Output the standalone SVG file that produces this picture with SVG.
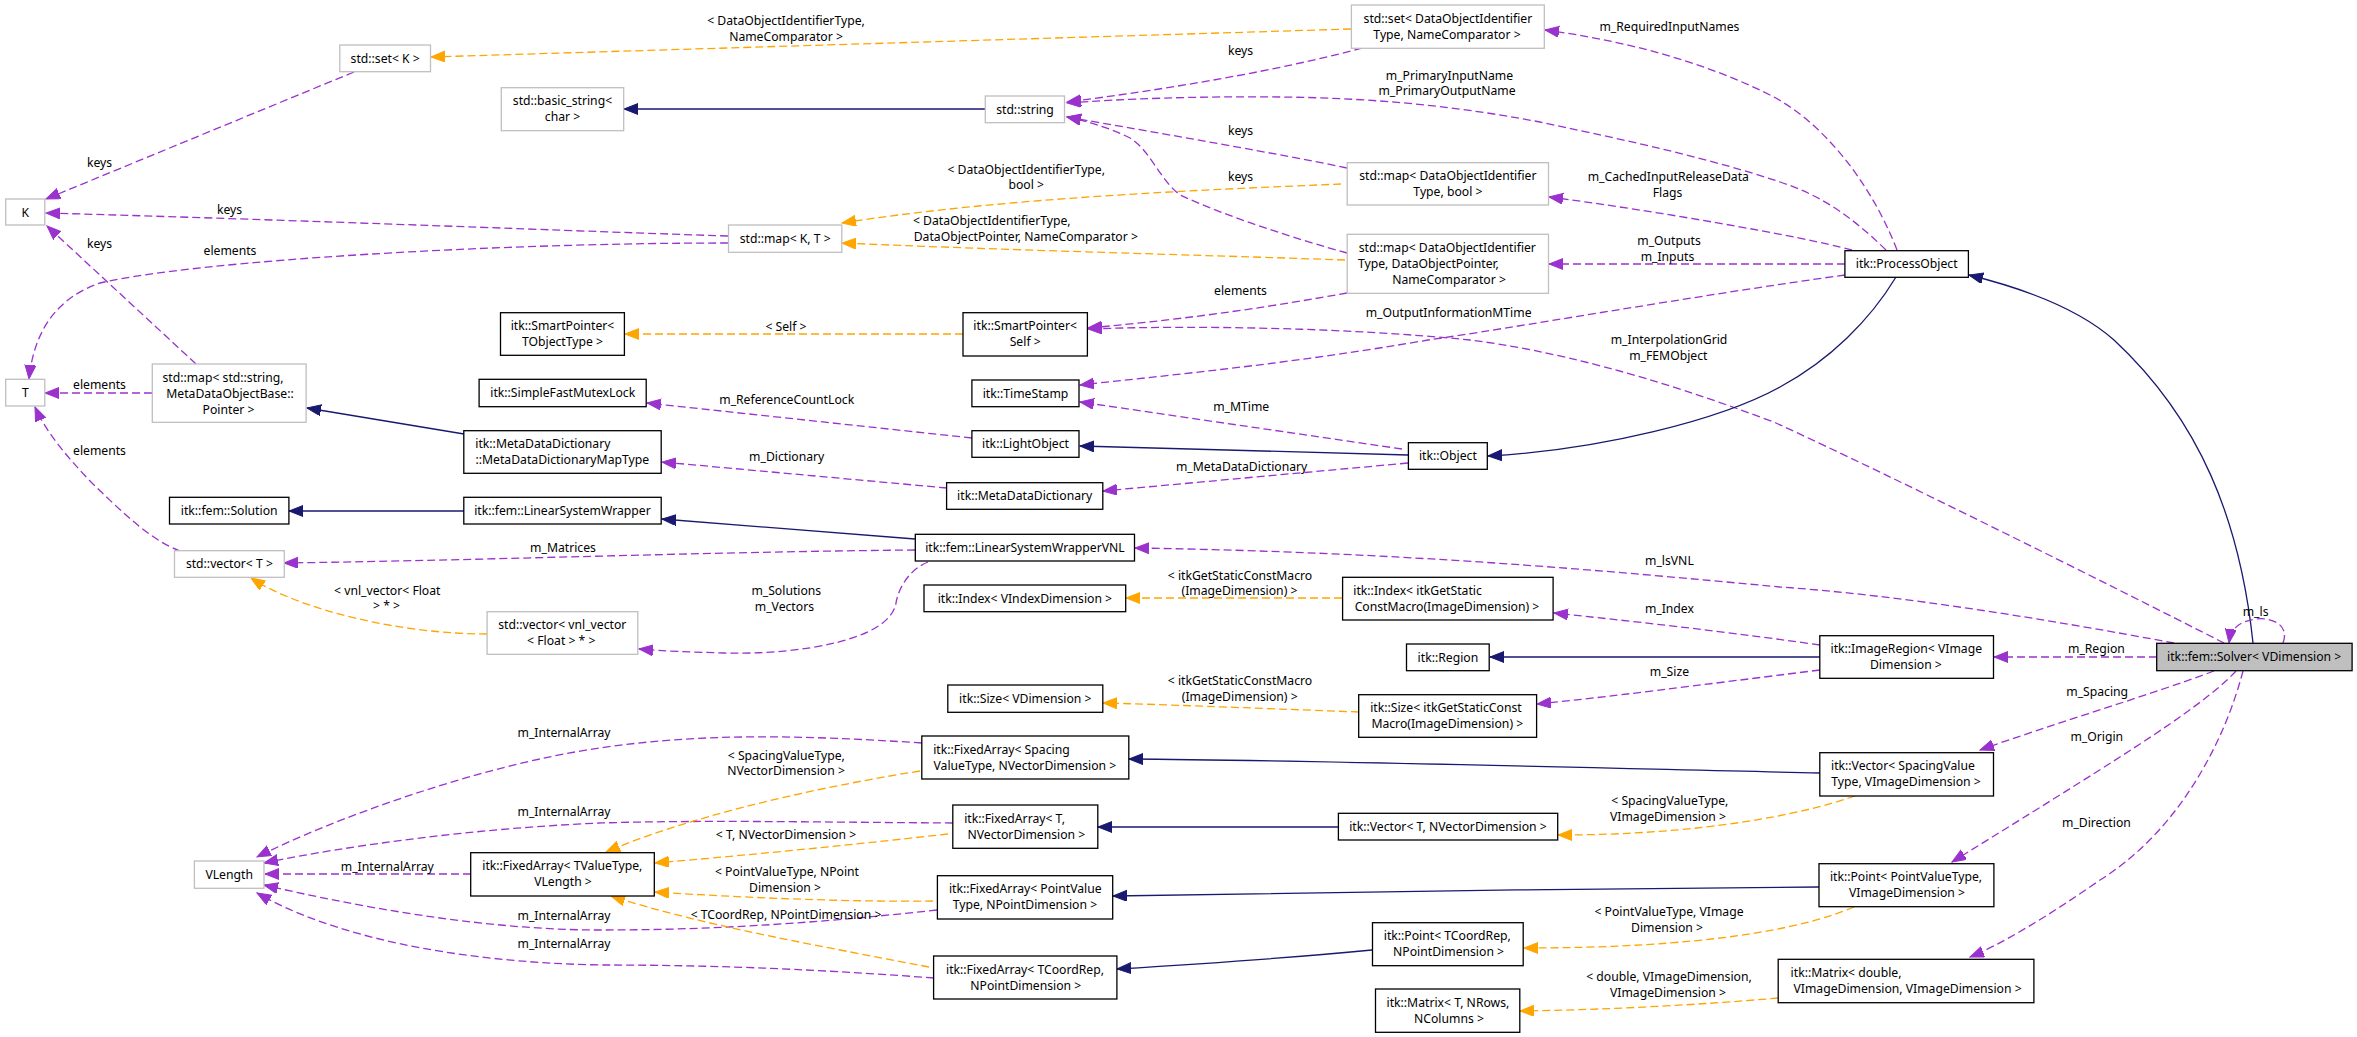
<svg xmlns="http://www.w3.org/2000/svg" width="2357" height="1037" viewBox="0 0 2357 1037">
<style>
.nd rect{fill:#fff;stroke:#000;stroke-width:1.3}
.ud rect{fill:#fff;stroke:#bfbfbf;stroke-width:1.3}
.sv rect{fill:#bfbfbf;stroke:#000;stroke-width:1.3}
text{font-family:"Noto Sans","Liberation Sans",sans-serif;font-size:12.2px;fill:#000}
.m{text-anchor:middle}
.s{text-anchor:start}
#connectors path{fill:none;stroke-width:1.3}
.p{stroke:#9a32cd;stroke-dasharray:8,4;marker-end:url(#ap)}
.o{stroke:#ffa500;stroke-dasharray:8,4;marker-end:url(#ao)}
.b{stroke:#191970;marker-end:url(#ab)}
</style>
<defs>
<marker id="ap" markerUnits="userSpaceOnUse" markerWidth="16" markerHeight="12" refX="14" refY="5.5" orient="auto" viewBox="0 0 16 12"><path d="M0,0 L14,5.5 L0,11 z" fill="#9a32cd" stroke="#9a32cd"/></marker>
<marker id="ao" markerUnits="userSpaceOnUse" markerWidth="16" markerHeight="12" refX="14" refY="5.5" orient="auto" viewBox="0 0 16 12"><path d="M0,0 L14,5.5 L0,11 z" fill="#ffa500" stroke="#ffa500"/></marker>
<marker id="ab" markerUnits="userSpaceOnUse" markerWidth="16" markerHeight="12" refX="14" refY="5.5" orient="auto" viewBox="0 0 16 12"><path d="M0,0 L14,5.5 L0,11 z" fill="#191970" stroke="#191970"/></marker>
</defs>
<rect x="0" y="0" width="2357" height="1037" fill="#fff"/>

<g id="connectors">
<path class="o" d="M1351,29 L431,57"/>
<path class="p" d="M354,72 L46,199"/>
<path class="p" d="M728,236 C600,232 300,220 46,213"/>
<path class="p" d="M728,243 C500,243 200,260 100,283 C50,300 33,340 29,379"/>
<path class="p" d="M196,364 L47,226"/>
<path class="p" d="M152,393 L45,393"/>
<path class="p" d="M180,551 C150,540 120,510 92,483 C65,455 45,430 35,407"/>
<path class="p" d="M915,550 C700,552 500,560 284,563"/>
<path class="o" d="M487,634 C400,634 300,610 251,578"/>
<path class="p" d="M928,562 C908,570 898,590 896,603 C890,640 800,655 724,653 C690,652 660,651 639,649"/>
<path class="o" d="M963,334 L625,334"/>
<path class="b" d="M985,109 L624,109"/>
<path class="p" d="M1362,48 C1300,65 1200,85 1067,102"/>
<path class="p" d="M1347,168 C1300,158 1200,140 1067,117"/>
<path class="p" d="M1347,253 C1300,240 1230,218 1180,195 C1160,180 1150,150 1130,138 C1110,128 1090,122 1067,117"/>
<path class="o" d="M1341,184 C1200,190 1000,198 842,223"/>
<path class="o" d="M1345,260 C1200,255 1000,250 842,243"/>
<path class="p" d="M1886,250 C1850,215 1820,195 1780,182 C1700,155 1600,135 1540,122 C1450,105 1370,98 1280,97 C1200,96 1120,99 1067,103"/>
<path class="p" d="M1897,250 C1870,180 1820,120 1770,95 C1700,60 1620,40 1545,30"/>
<path class="p" d="M1852,250 C1800,236 1650,210 1549,197"/>
<path class="p" d="M1845,264 L1549,264"/>
<path class="p" d="M1845,275 C1700,295 1500,330 1428,340 C1300,362 1200,372 1080,385"/>
<path class="p" d="M1347,293 C1280,305 1200,318 1088,328"/>
<path class="p" d="M2224,643 C2100,580 1900,480 1776,423 C1650,375 1550,350 1470,340 C1350,328 1200,325 1088,329"/>
<path class="b" d="M2253,643 C2240,520 2200,420 2114,340 C2080,310 2030,290 1969,275"/>
<path class="b" d="M1896,277 C1870,320 1830,360 1780,387 C1720,420 1600,450 1488,456"/>
<path class="b" d="M1408,455 L1080,446"/>
<path class="p" d="M1402,449 L1080,402"/>
<path class="p" d="M1408,463 L1103,491"/>
<path class="p" d="M972,438 L647,403"/>
<path class="p" d="M947,488 L662,462"/>
<path class="b" d="M464,434 L307,408"/>
<path class="b" d="M464,511 L289,511"/>
<path class="b" d="M915,539 L662,519"/>
<path class="p" d="M2174,643 C2050,620 1900,595 1780,587 C1600,570 1400,552 1135,548"/>
<path class="o" d="M1342,598 L1126,598"/>
<path class="p" d="M1820,645 C1700,628 1600,618 1554,613"/>
<path class="b" d="M1820,657 L1490,657"/>
<path class="p" d="M1820,670 C1700,685 1600,698 1537,704"/>
<path class="o" d="M1359,712 C1250,708 1150,704 1103,703"/>
<path class="p" d="M2157,657 L1994,657"/>
<path class="p" d="M2214,671 C2150,695 2050,725 1980,750"/>
<path class="p" d="M2236,671 C2200,710 2100,770 1952,862"/>
<path class="p" d="M2243,671 C2225,740 2180,830 2100,880 C2050,915 2000,945 1970,957"/>
<path class="p" d="M2283,643 C2290,625 2272,617 2256,619 C2240,621 2231,628 2229,643"/>
<path class="o" d="M1855,796 C1800,815 1700,835 1558,835"/>
<path class="b" d="M1820,773 C1600,768 1300,760 1129,759"/>
<path class="b" d="M1338,827 L1098,827"/>
<path class="b" d="M1819,887 C1600,888 1300,893 1113,896"/>
<path class="o" d="M1854,907 C1800,930 1700,948 1524,948"/>
<path class="o" d="M1778,998 C1700,1005 1600,1010 1520,1011"/>
<path class="b" d="M1372,950 C1300,957 1200,964 1117,969"/>
<path class="p" d="M922,743 C800,735 700,733 600,748 C480,765 330,820 257,857"/>
<path class="p" d="M953,823 C800,822 700,820 600,823 C480,828 350,845 264,863"/>
<path class="p" d="M471,874 L265,874"/>
<path class="p" d="M937,910 C800,925 700,930 600,930 C480,930 350,905 264,885"/>
<path class="p" d="M934,978 C800,968 700,965 600,965 C450,962 330,935 257,893"/>
<path class="o" d="M920,771 C800,790 680,820 606,852"/>
<path class="o" d="M948,834 C850,845 750,855 655,863"/>
<path class="o" d="M933,901 C850,902 750,898 655,892"/>
<path class="o" d="M929,967 C820,946 700,925 611,896"/>
</g>

<g id="edge-labels">
<text class="m" x="786" y="24.5">&lt; DataObjectIdentifierType,</text>
<text class="m" x="786" y="40.5">NameComparator &gt;</text>
<text class="m" x="99.5" y="167">keys</text>
<text class="m" x="229.6" y="213.5">keys</text>
<text class="m" x="230" y="255">elements</text>
<text class="m" x="99.5" y="247.5">keys</text>
<text class="m" x="99.5" y="388.5">elements</text>
<text class="m" x="99.5" y="455">elements</text>
<text class="m" x="563" y="552">m_Matrices</text>
<text class="m" x="387.3" y="595">&lt; vnl_vector&lt; Float</text>
<text class="m" x="386.5" y="610">&gt; * &gt;</text>
<text class="m" x="786.3" y="595">m_Solutions</text>
<text class="m" x="784.4" y="611">m_Vectors</text>
<text class="m" x="786" y="330.5">&lt; Self &gt;</text>
<text class="m" x="1240.5" y="55">keys</text>
<text class="m" x="1449.4" y="79.5">m_PrimaryInputName</text>
<text class="m" x="1447" y="95">m_PrimaryOutputName</text>
<text class="m" x="1669.4" y="31">m_RequiredInputNames</text>
<text class="m" x="1240.5" y="135">keys</text>
<text class="m" x="1240.5" y="181">keys</text>
<text class="m" x="1026.2" y="173.5">&lt; DataObjectIdentifierType,</text>
<text class="m" x="1026.2" y="189">bool &gt;</text>
<text class="m" x="991.8" y="225">&lt; DataObjectIdentifierType,</text>
<text class="m" x="1025.8" y="241">DataObjectPointer, NameComparator &gt;</text>
<text class="m" x="1668.3" y="181">m_CachedInputReleaseData</text>
<text class="m" x="1667.5" y="197">Flags</text>
<text class="m" x="1669" y="244.5">m_Outputs</text>
<text class="m" x="1667.5" y="260.5">m_Inputs</text>
<text class="m" x="1240.5" y="295">elements</text>
<text class="m" x="1448.6" y="317">m_OutputInformationMTime</text>
<text class="m" x="1669" y="344">m_InterpolationGrid</text>
<text class="m" x="1668.3" y="360">m_FEMObject</text>
<text class="m" x="1241.2" y="411">m_MTime</text>
<text class="m" x="1241.6" y="471">m_MetaDataDictionary</text>
<text class="m" x="786.7" y="404">m_ReferenceCountLock</text>
<text class="m" x="786.7" y="460.5">m_Dictionary</text>
<text class="m" x="1669.4" y="564.5">m_lsVNL</text>
<text class="m" x="1240" y="579.5">&lt; itkGetStaticConstMacro</text>
<text class="m" x="1239.5" y="595">(ImageDimension) &gt;</text>
<text class="m" x="1669.4" y="613">m_Index</text>
<text class="m" x="1669.4" y="675.5">m_Size</text>
<text class="m" x="1240" y="685">&lt; itkGetStaticConstMacro</text>
<text class="m" x="1239.7" y="700.5">(ImageDimension) &gt;</text>
<text class="m" x="2096.4" y="653">m_Region</text>
<text class="m" x="2255.6" y="616">m_ls</text>
<text class="m" x="2097.2" y="695.5">m_Spacing</text>
<text class="m" x="2096.8" y="741">m_Origin</text>
<text class="m" x="2096.4" y="827">m_Direction</text>
<text class="m" x="1669.8" y="805">&lt; SpacingValueType,</text>
<text class="m" x="1668" y="821">VImageDimension &gt;</text>
<text class="m" x="1669" y="916">&lt; PointValueType, VImage</text>
<text class="m" x="1667" y="932">Dimension &gt;</text>
<text class="m" x="1669" y="981">&lt; double, VImageDimension,</text>
<text class="m" x="1668" y="997">VImageDimension &gt;</text>
<text class="m" x="564" y="737">m_InternalArray</text>
<text class="m" x="564" y="816">m_InternalArray</text>
<text class="m" x="564" y="920">m_InternalArray</text>
<text class="m" x="564" y="948">m_InternalArray</text>
<text class="m" x="387.3" y="871">m_InternalArray</text>
<text class="m" x="786.3" y="759.5">&lt; SpacingValueType,</text>
<text class="m" x="786" y="775">NVectorDimension &gt;</text>
<text class="m" x="786" y="839">&lt; T, NVectorDimension &gt;</text>
<text class="m" x="787" y="876">&lt; PointValueType, NPoint</text>
<text class="m" x="785" y="892">Dimension &gt;</text>
<text class="m" x="786" y="919">&lt; TCoordRep, NPointDimension &gt;</text>
</g>

<g id="n_setK" class="ud"><rect x="339.8" y="45" width="90.7" height="26.7"/><text class="m" x="385.2" y="62.6">std::set&lt; K &gt;</text></g>
<g id="n_basic_string" class="ud"><rect x="501.3" y="87.7" width="122.4" height="43"/><text class="m" x="562.5" y="105.3">std::basic_string&lt;</text><text class="m" x="562.5" y="121.3">char &gt;</text></g>
<g id="n_K" class="ud"><rect x="5.7" y="199" width="39.1" height="26"/><text class="m" x="25.3" y="216.6">K</text></g>
<g id="n_sp_tobj" class="nd"><rect x="500.5" y="312.7" width="123.9" height="42.6"/><text class="m" x="562.5" y="330.3">itk::SmartPointer&lt;</text><text class="m" x="562.5" y="346.3">TObjectType &gt;</text></g>
<g id="n_string" class="ud"><rect x="985.3" y="96" width="79.2" height="26.7"/><text class="m" x="1025" y="113.6">std::string</text></g>
<g id="n_mapKT" class="ud"><rect x="728.5" y="225" width="113.3" height="27.3"/><text class="m" x="785.2" y="242.6">std::map&lt; K, T &gt;</text></g>
<g id="n_sp_self" class="nd"><rect x="963" y="312.7" width="124.4" height="43.3"/><text class="m" x="1025.2" y="330.3">itk::SmartPointer&lt;</text><text class="m" x="1025.2" y="346.3">Self &gt;</text></g>
<g id="n_set_doi" class="ud"><rect x="1351.4" y="5" width="192.9" height="43.3"/><text class="m" x="1447.9" y="22.6">std::set&lt; DataObjectIdentifier</text><text class="m" x="1447" y="38.6">Type, NameComparator &gt;</text></g>
<g id="n_map_doi_bool" class="ud"><rect x="1347.2" y="162.7" width="201.3" height="42.3"/><text class="m" x="1447.9" y="180.3">std::map&lt; DataObjectIdentifier</text><text class="m" x="1447.9" y="196.3">Type, bool &gt;</text></g>
<g id="n_map_doi_dop" class="ud"><rect x="1347.2" y="234.3" width="201.3" height="59"/><text class="s" x="1358.7" y="251.9">std::map&lt; DataObjectIdentifier</text><text class="s" x="1358" y="267.9">Type, DataObjectPointer,</text><text class="m" x="1449" y="283.9">NameComparator &gt;</text></g>
<g id="n_processobject" class="nd"><rect x="1844.9" y="250.7" width="123.5" height="26.6"/><text class="m" x="1906.7" y="268.3">itk::ProcessObject</text></g>
<g id="n_T" class="ud"><rect x="5.7" y="379.3" width="39.1" height="26.7"/><text class="m" x="25.3" y="397">T</text></g>
<g id="n_map_str" class="ud"><rect x="152.3" y="364" width="153.8" height="58.3"/><text class="m" x="223" y="381.6">std::map&lt; std::string,</text><text class="m" x="230" y="397.6">MetaDataObjectBase::</text><text class="m" x="228.5" y="413.6">Pointer &gt;</text></g>
<g id="n_sfml" class="nd"><rect x="479.1" y="379.3" width="167.1" height="27.4"/><text class="m" x="562.7" y="396.9">itk::SimpleFastMutexLock</text></g>
<g id="n_mddmt" class="nd"><rect x="463.8" y="430.7" width="197.4" height="42.6"/><text class="s" x="475.3" y="448.3">itk::MetaDataDictionary</text><text class="m" x="562.3" y="464.3">::MetaDataDictionaryMapType</text></g>
<g id="n_solution" class="nd"><rect x="169.5" y="497.3" width="119.4" height="26.7"/><text class="m" x="229.2" y="514.9">itk::fem::Solution</text></g>
<g id="n_lsw" class="nd"><rect x="463.8" y="497.3" width="197.4" height="26.7"/><text class="m" x="562.5" y="514.9">itk::fem::LinearSystemWrapper</text></g>
<g id="n_vecT" class="ud"><rect x="174.5" y="550.7" width="109.8" height="26.6"/><text class="m" x="229.4" y="568.3">std::vector&lt; T &gt;</text></g>
<g id="n_vec_vnl" class="ud"><rect x="487.1" y="611.7" width="150.7" height="42.6"/><text class="m" x="562.3" y="629.3">std::vector&lt; vnl_vector</text><text class="m" x="561.3" y="645.3">&lt; Float &gt; * &gt;</text></g>
<g id="n_timestamp" class="nd"><rect x="971.9" y="380" width="107.1" height="26.7"/><text class="m" x="1025.5" y="397.6">itk::TimeStamp</text></g>
<g id="n_lightobject" class="nd"><rect x="971.9" y="430.7" width="107.1" height="26.6"/><text class="m" x="1025.5" y="448.3">itk::LightObject</text></g>
<g id="n_mdd" class="nd"><rect x="946.6" y="482.7" width="156.2" height="26.6"/><text class="m" x="1024.7" y="500.3">itk::MetaDataDictionary</text></g>
<g id="n_lswvnl" class="nd"><rect x="915.3" y="534.3" width="219.2" height="26.7"/><text class="m" x="1024.9" y="551.9">itk::fem::LinearSystemWrapperVNL</text></g>
<g id="n_index_vid" class="nd"><rect x="924" y="585" width="201.7" height="26.7"/><text class="m" x="1024.9" y="602.6">itk::Index&lt; VIndexDimension &gt;</text></g>
<g id="n_object" class="nd"><rect x="1408.4" y="442.7" width="78.9" height="26.6"/><text class="m" x="1447.9" y="460.3">itk::Object</text></g>
<g id="n_index_igs" class="nd"><rect x="1342.6" y="577.3" width="210.5" height="42.7"/><text class="s" x="1353.3" y="594.9">itk::Index&lt; itkGetStatic</text><text class="m" x="1447" y="610.9">ConstMacro(ImageDimension) &gt;</text></g>
<g id="n_region" class="nd"><rect x="1406.5" y="644" width="82.7" height="26.7"/><text class="m" x="1447.9" y="661.6">itk::Region</text></g>
<g id="n_imageregion" class="nd"><rect x="1819.8" y="635.7" width="173.7" height="42.6"/><text class="m" x="1906.3" y="653.3">itk::ImageRegion&lt; VImage</text><text class="m" x="1905.9" y="669.3">Dimension &gt;</text></g>
<g id="n_solver" class="sv"><rect x="2156.7" y="643.3" width="195.4" height="27.4"/><text class="m" x="2254.2" y="660.9">itk::fem::Solver&lt; VDimension &gt;</text></g>
<g id="n_vlength" class="ud"><rect x="194.4" y="861" width="69.6" height="27.3"/><text class="m" x="229.2" y="878.6">VLength</text></g>
<g id="n_fa_tvt" class="nd"><rect x="470.7" y="852.7" width="183.6" height="43.3"/><text class="m" x="562.3" y="870.3">itk::FixedArray&lt; TValueType,</text><text class="m" x="563" y="886.3">VLength &gt;</text></g>
<g id="n_size_vd" class="nd"><rect x="947.8" y="685" width="155" height="27.3"/><text class="m" x="1025.3" y="702.6">itk::Size&lt; VDimension &gt;</text></g>
<g id="n_fa_spacing" class="nd"><rect x="921.8" y="736" width="207" height="43"/><text class="s" x="933.2" y="753.6">itk::FixedArray&lt; Spacing</text><text class="m" x="1024.9" y="769.6">ValueType, NVectorDimension &gt;</text></g>
<g id="n_fa_t" class="nd"><rect x="952.8" y="805" width="145" height="43.3"/><text class="s" x="964.2" y="822.6">itk::FixedArray&lt; T,</text><text class="m" x="1026.4" y="838.6">NVectorDimension &gt;</text></g>
<g id="n_fa_pv" class="nd"><rect x="937.4" y="875.7" width="175.3" height="43.3"/><text class="m" x="1025.3" y="893.3">itk::FixedArray&lt; PointValue</text><text class="m" x="1024.9" y="909.3">Type, NPointDimension &gt;</text></g>
<g id="n_fa_tcr" class="nd"><rect x="933.6" y="956" width="183.3" height="43"/><text class="m" x="1025" y="973.6">itk::FixedArray&lt; TCoordRep,</text><text class="m" x="1025.8" y="989.6">NPointDimension &gt;</text></g>
<g id="n_size_igs" class="nd"><rect x="1358.7" y="694.7" width="177.9" height="42.6"/><text class="s" x="1370.2" y="712.3">itk::Size&lt; itkGetStaticConst</text><text class="m" x="1447.3" y="728.3">Macro(ImageDimension) &gt;</text></g>
<g id="n_vector_t" class="nd"><rect x="1338.4" y="813.3" width="219.3" height="26.7"/><text class="m" x="1448" y="830.9">itk::Vector&lt; T, NVectorDimension &gt;</text></g>
<g id="n_point_tcr" class="nd"><rect x="1372.5" y="922.7" width="150.7" height="43"/><text class="m" x="1447.3" y="940.3">itk::Point&lt; TCoordRep,</text><text class="m" x="1448.6" y="956.3">NPointDimension &gt;</text></g>
<g id="n_matrix_t" class="nd"><rect x="1375.5" y="989" width="144.3" height="43.3"/><text class="m" x="1447.9" y="1006.6">itk::Matrix&lt; T, NRows,</text><text class="m" x="1449" y="1022.6">NColumns &gt;</text></g>
<g id="n_vector_sv" class="nd"><rect x="1819.8" y="752.7" width="173.7" height="43.3"/><text class="s" x="1831" y="770.3">itk::Vector&lt; SpacingValue</text><text class="m" x="1906" y="786.3">Type, VImageDimension &gt;</text></g>
<g id="n_point_pvt" class="nd"><rect x="1819" y="863.7" width="174.9" height="43"/><text class="m" x="1906" y="881.3">itk::Point&lt; PointValueType,</text><text class="m" x="1907" y="897.3">VImageDimension &gt;</text></g>
<g id="n_matrix_d" class="nd"><rect x="1778.2" y="959.3" width="255.7" height="43.4"/><text class="s" x="1790.6" y="976.9">itk::Matrix&lt; double,</text><text class="m" x="1907.6" y="992.9">VImageDimension, VImageDimension &gt;</text></g>
</svg>
